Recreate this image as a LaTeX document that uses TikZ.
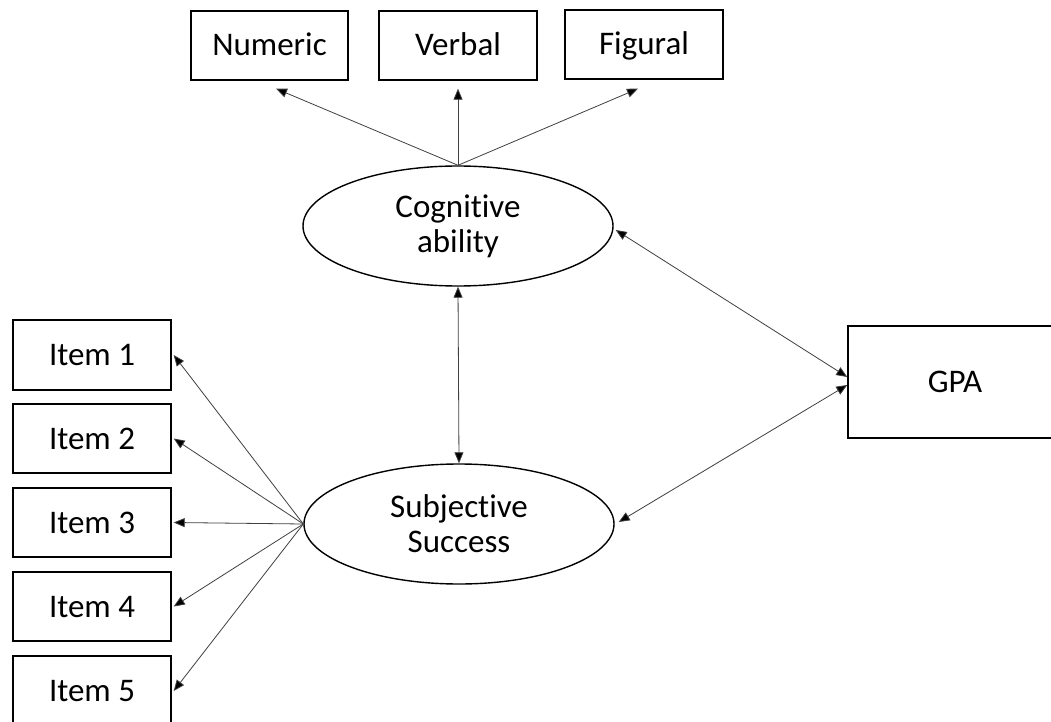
\documentclass[tikz,border=0pt]{standalone}
\usepackage{fontspec}
\setmainfont{Carlito}[Ligatures=NoCommon]
\usetikzlibrary{arrows.meta,shapes.geometric}
\tikzset{
  box/.style={draw, line width=1.4pt, rectangle, inner sep=0pt, text height=22pt, text depth=1pt, font=\fontsize{33}{35}\selectfont},
  latent/.style={draw, line width=1.4pt, ellipse, inner sep=0pt, minimum width=310pt, minimum height=120pt, align=center, font=\fontsize{33}{35}\selectfont},
  arr/.style={-{Triangle[length=11pt,width=9pt,fill=black]}, line width=0.8pt, draw=black!75},
  darr/.style={{Triangle[length=11pt,width=9pt,fill=black]}-{Triangle[length=11pt,width=9pt,fill=black]}, line width=0.8pt, draw=black!75}
}
\begin{document}
\begin{tikzpicture}[x=1pt,y=-1pt]
\useasboundingbox (0,0) rectangle (1051,722);
\fill[white] (0,0) rectangle (1051,722);
% top indicators
\node[box, minimum width=157pt, minimum height=69pt] (num) at (269.5,45.5) {Numeric};
\node[box, minimum width=158pt, minimum height=69pt] (verb) at (458,45.5) {Verbal};
\node[box, minimum width=158pt, minimum height=69pt] (fig) at (644,44.5) {Figural};
% latents
\node[latent] (cog) at (458,226) {Cognitive\\ability};
\node[latent] (sub) at (459,524) {Subjective\\Success};
% items
\node[box, minimum width=158pt, minimum height=70pt] (i1) at (92,355) {Item 1};
\node[box, minimum width=158pt, minimum height=69pt] (i2) at (92,438.5) {Item 2};
\node[box, minimum width=158pt, minimum height=69pt] (i3) at (92,522.5) {Item 3};
\node[box, minimum width=158pt, minimum height=69pt] (i4) at (92,606.5) {Item 4};
\node[box, minimum width=158pt, minimum height=70pt] (i5) at (92,691) {Item 5};
% GPA
\node[box, minimum width=214pt, minimum height=112pt] (gpa) at (955,382) {GPA};
% connectors
\draw[arr] (cog.north) -- ([shift={(6.5,8)}]num.south);
\draw[arr] (cog.north) -- ([shift={(0,8)}]verb.south);
\draw[arr] (cog.north) -- ([shift={(-6,9)}]fig.south);
\draw[darr] (cog.south) -- (sub.north);
\foreach \i in {i1,i2,i3,i4,i5}{
  \draw[arr] (sub.west) -- ([xshift=2pt]\i.east);
}
\draw[darr] ([shift={(2,4)}]cog.east) -- ([shift={(0,-5)}]gpa.west);
\draw[darr] ([shift={(4,-2)}]sub.east) -- ([shift={(0,3)}]gpa.west);
\end{tikzpicture}
\end{document}
